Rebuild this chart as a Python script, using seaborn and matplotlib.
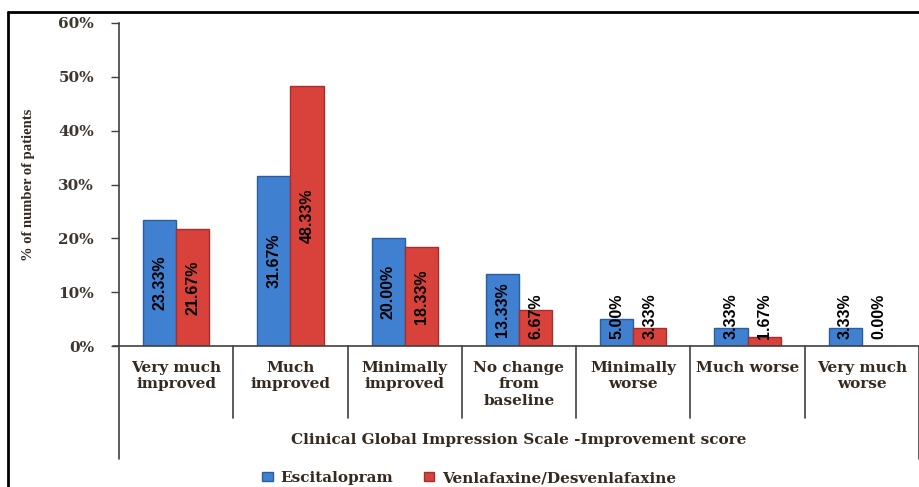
import numpy as np
import pandas as pd
import matplotlib
matplotlib.use("Agg")
import matplotlib.pyplot as plt
from matplotlib.lines import Line2D
from matplotlib.patches import Patch
import seaborn as sns

# CGI-I response categories and percentage of patients per treatment arm
categories = ["Very much\nimproved", "Much\nimproved", "Minimally\nimproved",
              "No change\nfrom\nbaseline", "Minimally\nworse", "Much worse",
              "Very much\nworse"]
escitalopram = [23.33, 31.67, 20.00, 13.33, 5.00, 3.33, 3.33]
venlafaxine = [21.67, 48.33, 18.33, 6.67, 3.33, 1.67, 0.00]
series_names = ["Escitalopram", "Venlafaxine/Desvenlafaxine"]
y_ticks = [0, 10, 20, 30, 40, 50, 60]

df = pd.DataFrame({
    "category": categories * 2,
    "value": escitalopram + venlafaxine,
    "group": [series_names[0]] * len(categories) + [series_names[1]] * len(categories),
})

sns.set_theme(style="white")
plt.rcParams["font.family"] = ["DejaVu Serif"]

fill_colors = ["#3f80d0", "#d9413b"]
edge_colors = ["#2c5e9f", "#a52f2a"]
tick_color = "#3d3630"
text_color = "#352a20"

fig = plt.figure(figsize=(9.2, 4.87), dpi=100)
ax = fig.add_axes([119 / 920, 1 - 346 / 487, 800 / 920, 323 / 487])

sns.barplot(data=df, x="category", y="value", hue="group", order=categories,
            hue_order=series_names, palette=fill_colors, width=0.58, gap=0,
            ax=ax, legend=False, saturation=1)

# darker outline per series
for container, ec in zip(ax.containers, edge_colors):
    for bar in container:
        bar.set_edgecolor(ec)
        bar.set_linewidth(1.0)

# rotated value labels: centred in the bar, kept clear of the baseline
for container, vals in zip(ax.containers, [escitalopram, venlafaxine]):
    for bar, v in zip(container, vals):
        xc = bar.get_x() + bar.get_width() / 2
        yc = max(v / 2, 5.5)
        ax.text(xc, yc, f"{v:.2f}%", rotation=90, ha="center", va="center",
                fontsize=11.5, fontweight="bold", color="black",
                family="Liberation Sans")

ax.set_xlim(-0.5, len(categories) - 0.5)
ax.set_ylim(0, 60)
ax.set_yticks(y_ticks)
ax.set_yticklabels([f"{t}%" for t in y_ticks], fontsize=11,
                   fontweight="bold", color=tick_color)
ax.tick_params(axis="y", direction="out", length=6, width=1, color="#404040",
               pad=12, left=True)
ax.set_xticks(range(len(categories)))
ax.set_xticklabels(categories, fontsize=11, fontweight="bold",
                   color=text_color, linespacing=1.2, va="top")
ax.tick_params(axis="x", length=0, pad=11)
ax.set_xlabel("")
ax.set_ylabel("% of number of patients", fontsize=10.5, fontweight="bold",
              color=text_color, family="Liberation Serif")
ax.yaxis.set_label_coords(-(119 - 35) / 800, 0.5)

for side in ["top", "right"]:
    ax.spines[side].set_visible(False)
ax.spines["left"].set_color("#404040")
ax.spines["bottom"].set_color("#404040")
ax.spines["left"].set_linewidth(1.2)
ax.spines["bottom"].set_linewidth(1.2)

# multi-level category axis dividers
trans = ax.get_xaxis_transform()
for i in range(len(categories) + 1):
    x = i - 0.5
    y_end = -0.35 if i in (0, len(categories)) else -0.223
    ax.plot([x, x], [0, y_end], color="#404040", lw=1.2, transform=trans,
            clip_on=False)
ax.plot([-0.5 - 0.05, -0.5], [0, 0], color="#404040", lw=1.2, transform=trans,
        clip_on=False)

ax.text(0.5, -0.291, "Clinical Global Impression Scale -Improvement score",
        transform=ax.transAxes, ha="center", va="center", fontsize=11,
        fontweight="bold", color=text_color)

handles = [Patch(facecolor=c, edgecolor=e) for c, e in zip(fill_colors, edge_colors)]
leg = fig.legend(handles, series_names, loc="center",
                 bbox_to_anchor=(469 / 920, 1 - 478 / 487), ncol=2,
                 frameon=False, handlelength=0.7, handleheight=0.6,
                 handletextpad=0.5, columnspacing=2.0,
                 prop={"size": 11, "weight": "bold"})
for t in leg.get_texts():
    t.set_color(text_color)

# outer chart border
fig.add_artist(Line2D([8 / 920, 1.0], [1 - 12 / 487, 1 - 12 / 487],
                      color="black", lw=2, transform=fig.transFigure))
fig.add_artist(Line2D([8 / 920, 8 / 920], [0, 1 - 12 / 487],
                      color="black", lw=2, transform=fig.transFigure))

fig.savefig("out.png", dpi=100)
